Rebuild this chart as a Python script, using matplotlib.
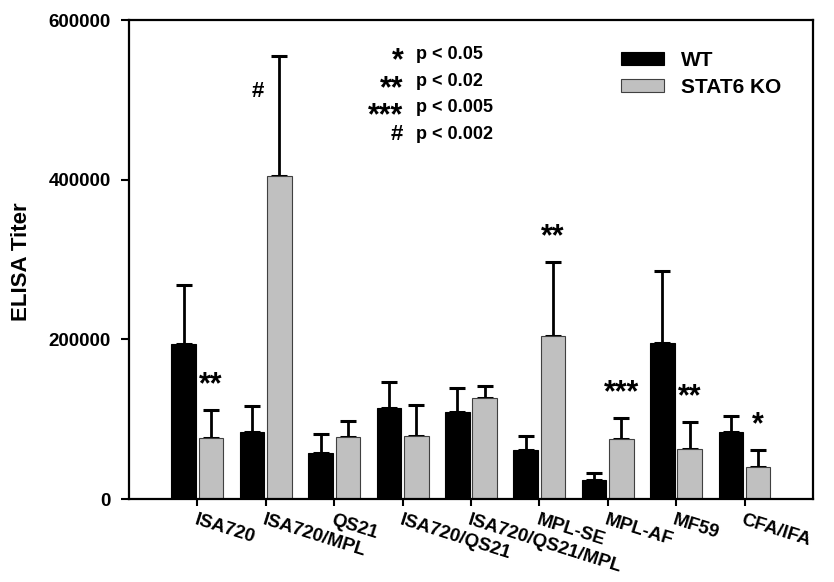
import numpy as np
import matplotlib.pyplot as plt

plt.rcParams['font.family'] = 'Liberation Sans'
plt.rcParams['font.weight'] = 'bold'

# ELISA titers, WT vs STAT6 KO mice, per adjuvant
adjuvants = ['ISA720', 'ISA720/MPL', 'QS21', 'ISA720/QS21', 'ISA720/QS21/MPL',
             'MPL-SE', 'MPL-AF', 'MF59', 'CFA/IFA']
wt_titer = [194000, 84000, 57500, 114000, 109500, 61000, 24000, 196000, 84000]
wt_err = [73500, 32000, 24000, 32000, 29500, 18500, 9000, 89000, 20000]
ko_titer = [76000, 404000, 78000, 79000, 126000, 204000, 75000, 63000, 40000]
ko_err = [36000, 151000, 19500, 38500, 15500, 93500, 27000, 34000, 22000]
ko_sig = ['**', '#', '', '', '', '**', '***', '**', '*']

p_symbols = ['*', '**', '***', '#']
p_labels = ['p < 0.05', 'p < 0.02', 'p < 0.005', 'p < 0.002']

x = np.arange(len(adjuvants))
w = 0.36

fig = plt.figure(figsize=(8.34, 5.82), dpi=100)
ax = fig.add_axes([0.1547, 0.1426, 0.82, 0.823])

ax.errorbar(x - 0.2, wt_titer, yerr=[np.zeros(len(x)), wt_err], fmt='none',
            ecolor='black', elinewidth=2, capsize=5.75, capthick=2.2, zorder=1)
ax.errorbar(x + 0.2, ko_titer, yerr=[np.zeros(len(x)), ko_err], fmt='none',
            ecolor='black', elinewidth=2, capsize=5.75, capthick=2.2, zorder=1)
ax.bar(x - 0.2, wt_titer, w, color='black', edgecolor='black', linewidth=0.8,
       label='WT', zorder=2)
ax.bar(x + 0.2, ko_titer, w, color='#c0c0c0', edgecolor='#404040', linewidth=0.8,
       label='STAT6 KO', zorder=2)

# significance marks over the KO bars
for i, s in enumerate(ko_sig):
    if s == '#':
        ax.text(i - 0.12, 510000, s, ha='center', va='center', fontsize=16)
    elif s:
        ax.text(i + 0.2, ko_titer[i] + ko_err[i] + 30000, s, ha='center',
                va='center', fontsize=22)

# p-value key: asterisk column as one block, '#' on its own
stars = [s for s in p_symbols if s != '#']
ax.text(0.401, 0.946, '\n'.join(stars), transform=ax.transAxes, ha='right',
        va='top', multialignment='right', fontsize=22, linespacing=0.91)
ax.text(0.401, 0.927 - 3 * 0.055, '#', transform=ax.transAxes, ha='right',
        va='center', fontsize=16)
for k, lab in enumerate(p_labels):
    ax.text(0.419, 0.927 - k * 0.055, lab, transform=ax.transAxes, ha='left',
            va='center', fontsize=13)

ax.set_xlim(-1, 9)
ax.set_ylim(0, 600000)
ax.set_yticks([0, 200000, 400000, 600000])
ax.set_xticks(x)
ax.set_xticklabels(adjuvants, rotation=-17.5, ha='left', rotation_mode='anchor',
                   fontsize=13.5)
ax.tick_params(axis='y', labelsize=13.5, length=6, width=1.5, pad=7)
ax.tick_params(axis='x', length=5, width=1.5, pad=4)
for sp in ax.spines.values():
    sp.set_linewidth(1.6)

ax.set_ylabel('ELISA Titer', fontsize=16, fontweight='bold')
ax.yaxis.set_label_coords(-0.142, 0.495)

ax.legend(loc='upper left', bbox_to_anchor=(0.719, 0.935), frameon=False,
          fontsize=15, handlelength=2.1, handleheight=0.58, handletextpad=0.77,
          labelspacing=0.39, borderpad=0, borderaxespad=0)

fig.savefig('out.png', dpi=100)
